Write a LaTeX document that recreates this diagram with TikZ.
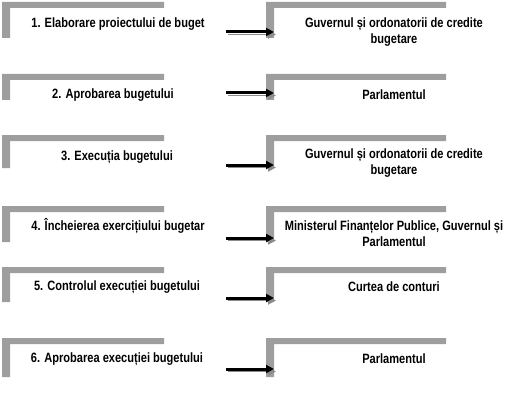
\documentclass[tikz,border=0pt]{standalone}
\usepackage{fontspec}
\setmainfont{Liberation Sans}[FakeStretch=0.82]
\usetikzlibrary{arrows.meta}
\begin{document}
\begin{tikzpicture}[x=1pt,y=-1pt,
  frame/.style={fill=black!38, draw=none},
  txt/.style={font=\bfseries\fontsize{13.5}{16}\selectfont, inner sep=0pt, align=center},
  flow/.style={line width=3pt, -{Triangle[length=8pt,width=8pt]},
    preaction={draw=black!45, transform canvas={shift={(2pt,-2.5pt)}}}}
]
\useasboundingbox (0,0) rectangle (516,401);
\foreach \t/\b in {2/38, 74/100, 135/168, 206/242, 267/302, 338/377} {
  \fill[frame] (2,\t) -- (164,\t) -- (164,\t+6) -- (10,\t+6) -- (10,\b) -- (2,\b) -- cycle;
  \fill[frame] (266,\t) -- (446,\t) -- (446,\t+6) -- (274,\t+6) -- (274,\b) -- (266,\b) -- cycle;
}
% left texts
\node[txt] (L1) at (118,24) {1. Elaborare proiectului de buget};
\node[txt] (L2) at (113,95) {2. Aprobarea bugetului};
\node[txt] (L3) at (117,157) {3. Execuția bugetului};
\node[txt] (L4) at (118,226) {4. Încheierea exercițiului bugetar};
\node[txt] (L5) at (117,287) {5. Controlul execuției bugetului};
\node[txt] (L6) at (117,359) {6. Aprobarea execuției bugetului};
% right texts
\node[txt] (R1) at (394,32) {Guvernul și ordonatorii de credite\\bugetare};
\node[txt] (R2) at (394,95) {Parlamentul};
\node[txt] (R3) at (394,163) {Guvernul și ordonatorii de credite\\bugetare};
\node[txt] (R4) at (394,234) {Ministerul Finanțelor Publice, Guvernul și\\Parlamentul};
\node[txt] (R5) at (394,287) {Curtea de conturi};
\node[txt] (R6) at (394,359) {Parlamentul};
% arrows
\foreach \i/\y in {1/32, 2/93, 3/165, 4/238, 5/298, 6/369} {
  \coordinate (s\i) at (226,\y);
  \coordinate (e\i) at (274,\y);
  \draw[flow] (s\i) -- (e\i);
}
\end{tikzpicture}
\end{document}
